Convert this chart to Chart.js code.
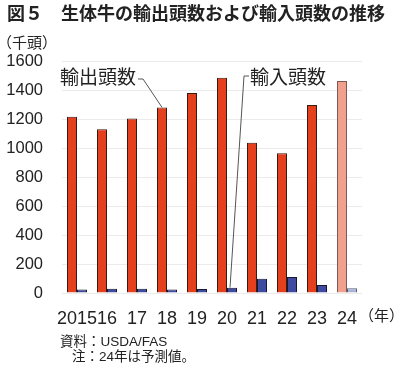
<!DOCTYPE html>
<html>
<head>
<meta charset="utf-8">
<script src="https://cdn.jsdelivr.net/npm/chart.js@4"></script>
<style>
  body { margin: 0; background: #fff; }
  #wrap { position: relative; width: 400px; height: 369px; font-family: "Noto Sans CJK JP", "Liberation Sans", sans-serif; color: #222; }
  #wrap canvas { position: absolute; left: 0; top: 0; }
  .txt { position: absolute; white-space: nowrap; line-height: 1; }
  .note { font-family: "Liberation Sans", "Noto Sans CJK JP", sans-serif; font-size: 13.5px; }
</style>
</head>
<body>
<div id="wrap">
  <canvas id="chart" width="400" height="369"></canvas>
  <div class="txt" style="left:7px;top:3px;font-size:18px;font-weight:bold;">図５　生体牛の輸出頭数および輸入頭数の推移</div>
  <div class="txt" style="left:-3px;top:34px;font-size:15px;">（千頭）</div>
  <div class="txt" style="left:359px;top:307px;font-size:15px;">（年）</div>
  <div class="txt note" style="left:60px;top:335px;">資料：USDA/FAS</div>
  <div class="txt note" style="left:72px;top:350px;">注：24年は予測値。</div>
</div>
<script>
const years = ['2015', '16', '17', '18', '19', '20', '21', '22', '23', '24'];
const exportHead = [1215, 1130, 1203, 1280, 1380, 1485, 1037, 963, 1297, 1462];
const importHead = [25, 30, 30, 25, 28, 37, 99, 110, 55, 32];
const yTicks = [0, 200, 400, 600, 800, 1000, 1200, 1400, 1600];

const forecastIndex = 9;
const redFill = years.map((y, i) => i === forecastIndex ? '#f2a08e' : '#e5401e');
const redBorder = years.map((y, i) => i === forecastIndex ? '#7a5a52' : '#3a1a10');
const blueFill = years.map((y, i) => i === forecastIndex ? '#a9b3d8' : '#3e4ba0');
const blueBorder = years.map((y, i) => i === forecastIndex ? '#5a5f78' : '#141830');

// leader lines + labels
const calloutPlugin = {
    id: 'callouts',
    afterDatasetsDraw(chart) {
        const ctx = chart.ctx;
        const outBar = chart.getDatasetMeta(0).data[3];
        const inBar = chart.getDatasetMeta(1).data[5];
        ctx.save();
        ctx.font = '19px "Noto Sans CJK JP"';
        ctx.fillStyle = '#222';
        ctx.textBaseline = 'middle';
        ctx.fillText('輸出頭数', 60, 77);
        ctx.fillText('輸入頭数', 250, 77);
        ctx.strokeStyle = '#555';
        ctx.lineWidth = 1;
        ctx.beginPath();
        ctx.moveTo(138, 79);
        ctx.lineTo(143, 79);
        ctx.lineTo(outBar.x, outBar.y);
        ctx.moveTo(249, 76);
        ctx.lineTo(244, 76);
        ctx.lineTo(inBar.x - 2, inBar.y);
        ctx.stroke();
        ctx.restore();
    }
};

const ctx = document.getElementById('chart').getContext('2d');
new Chart(ctx, {
    type: 'bar',
    data: {
        labels: years,
        datasets: [{
            label: '輸出頭数',
            data: exportHead,
            backgroundColor: redFill,
            borderColor: redBorder,
            borderWidth: 1,
            categoryPercentage: 2 / 3,
            barPercentage: 1
        }, {
            label: '輸入頭数',
            data: importHead,
            backgroundColor: blueFill,
            borderColor: blueBorder,
            borderWidth: 1,
            categoryPercentage: 2 / 3,
            barPercentage: 1
        }]
    },
    options: {
        responsive: false,
        animation: false,
        layout: { padding: { left: 0, right: 38, top: 61, bottom: 36 } },
        plugins: {
            legend: { display: false },
            tooltip: { enabled: false }
        },
        scales: {
            x: {
                clip: false,
                grid: { display: false },
                border: { display: false },
                ticks: {
                    autoSkip: false,
                    maxRotation: 0,
                    padding: 7,
                    color: '#222',
                    font: { family: '"Liberation Sans", Arial, sans-serif', size: 18 }
                },
                afterFit(scale) { scale.height = 40; }
            },
            y: {
                min: 0,
                max: 1600,
                afterBuildTicks(scale) { scale.ticks = yTicks.map(v => ({ value: v })); },
                grid: { color: '#ebebeb', lineWidth: 1, drawTicks: false },
                border: { display: false },
                ticks: {
                    padding: 19,
                    color: '#222',
                    callback: v => String(v),
                    font: { family: '"Liberation Sans", Arial, sans-serif', size: 16.5 }
                },
                afterFit(scale) { scale.width = 62; }
            }
        }
    },
    plugins: [calloutPlugin]
});
</script>
</body>
</html>
